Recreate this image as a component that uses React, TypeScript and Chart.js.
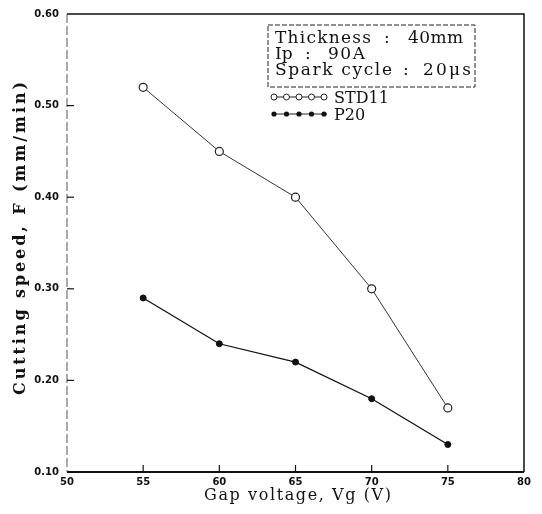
import React, { useEffect, useRef } from "react";
import { Chart, registerables } from "chart.js";

Chart.register(...registerables);

const voltages = [55, 60, 65, 70, 75];
const std11Speed = [0.52, 0.45, 0.4, 0.3, 0.17];
const p20Speed = [0.29, 0.24, 0.22, 0.18, 0.13];
const xTicks = [50, 55, 60, 65, 70, 75, 80];
const yTicks = [0.1, 0.2, 0.3, 0.4, 0.5, 0.6];
const seriesNames = ["STD11", "P20"];
const infoLines = [
  ["Thickness", ":", "40mm"],
  ["Ip", ":", "90A"],
  ["Spark cycle", ":", "20\u03bcs"],
];
const xTitle = "Gap voltage, Vg (V)";
const yTitle = "Cutting speed, F (mm/min)";

function drawSpaced(ctx: CanvasRenderingContext2D, text: string, x: number, y: number, width: number) {
  const chars = Array.from(text);
  const widths = chars.map((c) => ctx.measureText(c).width);
  const total = widths.reduce((a, b) => a + b, 0);
  const gap = chars.length > 1 ? Math.max(0, (width - total) / (chars.length - 1)) : 0;
  let cx = x;
  ctx.textAlign = "left";
  chars.forEach((c, i) => {
    ctx.fillText(c, cx, y);
    cx += widths[i] + gap;
  });
}

const framePlugin = {
  id: "frame",
  afterDraw(chart: any) {
    const ctx: CanvasRenderingContext2D = chart.ctx;
    const { left, right, top, bottom } = chart.chartArea;
    const xs = chart.scales.x;
    const ys = chart.scales.y;
    ctx.save();
    ctx.strokeStyle = "#111";
    ctx.lineWidth = 1.5;
    ctx.beginPath();
    ctx.moveTo(left, top);
    ctx.lineTo(right, top);
    ctx.lineTo(right, bottom);
    ctx.stroke();
    ctx.lineWidth = 2;
    ctx.beginPath();
    ctx.moveTo(left, bottom);
    ctx.lineTo(right, bottom);
    ctx.stroke();
    ctx.lineWidth = 1;
    ctx.strokeStyle = "#555";
    ctx.setLineDash([9, 3]);
    ctx.beginPath();
    ctx.moveTo(left, top);
    ctx.lineTo(left, bottom);
    ctx.stroke();
    ctx.setLineDash([]);
    ctx.strokeStyle = "#111";
    ctx.lineWidth = 1.2;
    xTicks.slice(1, -1).forEach((v) => {
      const px = xs.getPixelForValue(v);
      ctx.beginPath();
      ctx.moveTo(px, bottom);
      ctx.lineTo(px, bottom - 7);
      ctx.stroke();
    });
    yTicks.slice(1, -1).forEach((v) => {
      const py = ys.getPixelForValue(v);
      ctx.beginPath();
      ctx.moveTo(left, py);
      ctx.lineTo(left + 7, py);
      ctx.stroke();
    });

    ctx.fillStyle = "#111";
    ctx.textBaseline = "alphabetic";
    ctx.font = "16px 'DejaVu Serif'";
    drawSpaced(ctx, xTitle, 204, 500, 187);
    ctx.save();
    ctx.translate(25, 395);
    ctx.rotate(-Math.PI / 2);
    ctx.font = "bold 16px 'DejaVu Serif'";
    drawSpaced(ctx, yTitle, 0, 0, 313);
    ctx.restore();

    ctx.lineWidth = 1;
    ctx.setLineDash([5, 2]);
    ctx.strokeStyle = "#222";
    ctx.strokeRect(268, 25, 207, 62);
    ctx.setLineDash([]);
    ctx.font = "17px 'DejaVu Serif'";
    const base = [43, 59, 75];
    const pos = [
      [[275, 96], [384, 0], [408, 55]],
      [[275, 0], [305, 0], [328, 37]],
      [[275, 117], [403, 0], [423, 48]],
    ];
    infoLines.forEach((parts, i) => {
      parts.forEach((t, j) => {
        const [px, w] = pos[i][j];
        if (w === 0) {
          ctx.textAlign = "left";
          ctx.fillText(t, px, base[i]);
        } else {
          drawSpaced(ctx, t, px, base[i], w);
        }
      });
    });

    const rows = [97, 114];
    rows.forEach((ry, i) => {
      ctx.strokeStyle = "#222";
      ctx.lineWidth = 1;
      ctx.beginPath();
      ctx.moveTo(272, ry);
      ctx.lineTo(327, ry);
      ctx.stroke();
      for (let k = 0; k < 5; k++) {
        const mx = 274 + k * 12.5;
        ctx.beginPath();
        ctx.arc(mx, ry, i === 0 ? 3 : 2.6, 0, Math.PI * 2);
        if (i === 0) {
          ctx.fillStyle = "#fff";
          ctx.fill();
          ctx.stroke();
        } else {
          ctx.fillStyle = "#111";
          ctx.fill();
        }
      }
      ctx.fillStyle = "#111";
      ctx.font = "16px 'DejaVu Serif'";
      ctx.textAlign = "left";
      ctx.fillText(seriesNames[i], 334, ry + 6);
    });
    ctx.restore();
  },
};

export default function App() {
  const ref = useRef<HTMLCanvasElement | null>(null);
  useEffect(() => {
    if (!ref.current) return;
    const chart = new Chart(ref.current, {
      type: "line",
      data: {
        datasets: [
          {
            label: seriesNames[0],
            data: voltages.map((v, i) => ({ x: v, y: std11Speed[i] })),
            borderColor: "#333",
            borderWidth: 1,
            pointRadius: 4,
            pointBorderWidth: 1.2,
            pointBackgroundColor: "#fff",
            pointBorderColor: "#222",
            tension: 0,
          },
          {
            label: seriesNames[1],
            data: voltages.map((v, i) => ({ x: v, y: p20Speed[i] })),
            borderColor: "#111",
            borderWidth: 1.3,
            pointRadius: 3,
            pointBorderWidth: 1,
            pointBackgroundColor: "#111",
            pointBorderColor: "#111",
            tension: 0,
          },
        ],
      },
      options: {
        animation: false,
        responsive: false,
        layout: { padding: { left: 0, top: 6, right: 18, bottom: 0 } },
        plugins: { legend: { display: false }, tooltip: { enabled: false } },
        scales: {
          x: {
            type: "linear",
            min: 50,
            max: 80,
            afterBuildTicks: (s: any) => {
              s.ticks = xTicks.map((v) => ({ value: v }));
            },
            afterFit: (s: any) => {
              s.height = 42;
            },
            grid: { display: false, drawTicks: false },
            border: { display: false },
            ticks: {
              padding: 4,
              color: "#111",
              font: { family: "'DejaVu Sans'", size: 10, weight: "bold" },
              callback: (v: any) => String(v),
            },
          },
          y: {
            type: "linear",
            min: 0.1,
            max: 0.6,
            afterBuildTicks: (s: any) => {
              s.ticks = yTicks.map((v) => ({ value: v }));
            },
            afterFit: (s: any) => {
              s.width = 67;
            },
            grid: { display: false, drawTicks: false },
            border: { display: false },
            ticks: {
              padding: 8,
              color: "#111",
              font: { family: "'DejaVu Sans'", size: 10, weight: "bold" },
              callback: (v: any) => Number(v).toFixed(2),
            },
          },
        },
      },
      plugins: [framePlugin],
    });
    return () => chart.destroy();
  }, []);
  return (
    <div style={{ position: "absolute", left: 0, top: 0, width: 542, height: 514, background: "#fff" }}>
      <canvas ref={ref} width={542} height={514} style={{ width: 542, height: 514 }} />
    </div>
  );
}
